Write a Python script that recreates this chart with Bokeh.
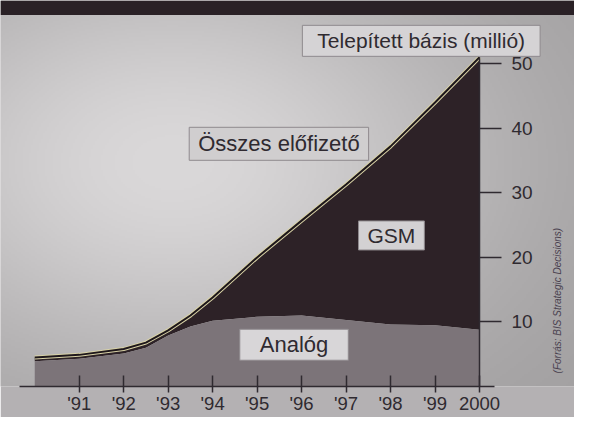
import math
import numpy as np
from bokeh.plotting import figure
from bokeh.models import Label, FixedTicker, BoxAnnotation, Range1d
from bokeh.embed import file_html
from bokeh.resources import INLINE

# ---- data (million subscribers) ----
years = [1990, 1991, 1992, 1992.5, 1993, 1993.5, 1994, 1995, 1996, 1997, 1998, 1999, 2000]
total = [4.5, 4.9, 5.8, 6.8, 8.7, 11.0, 13.8, 20.0, 25.7, 31.3, 37.2, 44.0, 51.0]
analog = [3.9, 4.3, 5.1, 6.0, 7.9, 9.3, 10.2, 10.8, 11.0, 10.3, 9.6, 9.5, 8.8]
base = [0] * len(years)

tick_years = [1991, 1992, 1993, 1994, 1995, 1996, 1997, 1998, 1999, 2000]
tick_labels = ["'91", "'92", "'93", "'94", "'95", "'96", "'97", "'98", "'99", "2000"]
y_ticks = [10, 20, 30, 40, 50]

FONT = "Liberation Sans"
TXT = "#2f2a30"
DARK = "#2d2227"
ANALOG = "#7c7479"

X0, X1 = 1989.23, 2002.136
Y0, Y1 = 0.0, 59.8

p = figure(width=574, height=417, output_backend="svg", toolbar_location=None,
           x_range=Range1d(X0, X1), y_range=Range1d(Y0, Y1),
           y_axis_location="right",
           min_border_left=0, min_border_top=0, min_border_right=0, min_border_bottom=31)
p.background_fill_color = "#c3c0c1"
p.border_fill_color = "#b4b1b3"
p.outline_line_color = None
p.grid.visible = False

# soft light backdrop (decoration only)
h, w = 193, 287
gx, gy = np.meshgrid(np.linspace(0, 1, w), np.linspace(1, 0, h))
glow = np.exp(-(((gx - 0.30) / 0.55) ** 2 + ((gy - 0.42) / 0.55) ** 2))
v = (160 + 58 * glow).astype(np.uint32)
img = (255 << 24) | ((v - 1) << 16) | ((v - 2) << 8) | v
p.image_rgba(image=[img.astype(np.uint32)], x=X0, y=Y0, dw=X1 - X0, dh=Y1 - Y0, level="image")

# top dark band
p.add_layout(BoxAnnotation(bottom=57.57, fill_color="#2a2126", fill_alpha=1,
                           line_color=None, level="overlay"))

# areas
p.varea(x=years, y1=analog, y2=total, fill_color=DARK)
p.varea(x=years, y1=base, y2=analog, fill_color=ANALOG)
p.line(x=years, y=total, line_color="#d8d2a6", line_width=4)
p.line(x=years, y=total, line_color="#1e171b", line_width=2)

# axes
xa = p.xaxis[0]
xa.ticker = FixedTicker(ticks=tick_years)
xa.bounds = (1989.66, 2000.34)
xa.major_label_overrides = {y: l for y, l in zip(tick_years, tick_labels)}
xa.major_tick_in = 11
xa.major_tick_out = 6
xa.major_label_standoff = 0
xa.minor_tick_line_color = None
xa.axis_line_color = TXT
xa.axis_line_width = 1.5
xa.major_tick_line_color = TXT
xa.major_tick_line_width = 1.5
xa.major_label_text_font = FONT
xa.major_label_text_font_size = "18.5px"
xa.major_label_text_color = TXT

ya = p.yaxis[0]
ya.fixed_location = 2000
ya.ticker = FixedTicker(ticks=y_ticks)
ya.bounds = (0, 51)
ya.major_tick_in = 0
ya.major_tick_out = 22
ya.major_label_standoff = 10
ya.minor_tick_line_color = None
ya.axis_line_color = TXT
ya.axis_line_width = 1.5
ya.major_tick_line_color = TXT
ya.major_tick_line_width = 1.5
ya.major_label_text_font = FONT
ya.major_label_text_font_size = "19px"
ya.major_label_text_color = TXT

def box(x, y, text, bg, px, py, size):
    p.add_layout(Label(x=x, y=y, text=text,
                       text_align="center", text_baseline="middle",
                       text_font=FONT, text_font_size=size, text_color=TXT,
                       background_fill_color=bg, background_fill_alpha=1,
                       border_line_color="#8f8a8e", border_line_width=1,
                       padding=(px, py), level="overlay"))

box(1998.69, 53.55, "Telepített bázis (millió)", "#d5d3d5", 15, 4, "21px")
box(1995.49, 37.6, "Összes előfizető", "#d0cecf", 9, 4, "22px")
box(1998.02, 23.4, "GSM", "#d3d1d3", 9, 3, "21px")
box(1995.83, 6.47, "Analóg", "#d8d6d8", 20, 3, "22px")

p.add_layout(Label(x=2001.745, y=13.3, text="(Forrás: BIS Strategic Decisions)",
                   angle=math.pi / 2, text_align="center", text_baseline="middle",
                   text_font=FONT, text_font_size="10px", text_font_style="italic",
                   text_color="#4a4250", level="overlay"))

open("out.html", "w").write(file_html(p, INLINE))
